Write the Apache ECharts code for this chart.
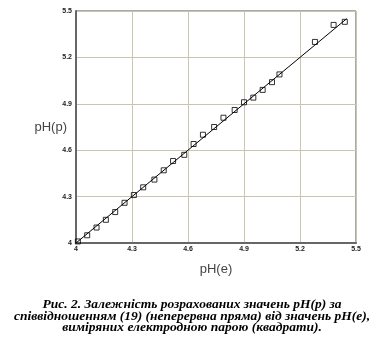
<!DOCTYPE html>
<html>
<head>
<meta charset="utf-8">
<script src="https://cdn.jsdelivr.net/npm/echarts@6/dist/echarts.min.js"></script>
<style>
html,body{margin:0;padding:0;background:#fff;}
#c{width:384px;height:356px;}
</style>
</head>
<body>
<div id="c"></div>
<script>
// measured pH(e) values (squares)
var phE = [4.01,4.06,4.11,4.16,4.21,4.26,4.31,4.36,4.42,4.47,4.52,4.58,4.63,4.68,4.74,4.79,4.85,4.90,4.95,5.00,5.05,5.09,5.28,5.38,5.44];
// calculated pH(p) values (squares)
var phP = [4.01,4.05,4.10,4.15,4.20,4.26,4.31,4.36,4.41,4.47,4.53,4.57,4.64,4.70,4.75,4.81,4.86,4.91,4.94,4.99,5.04,5.09,5.30,5.41,5.43];
// continuous line endpoints (pH(e), pH(p))
var lineX = [4.0, 5.45];
var lineY = [4.0, 5.45];
var tickLabels = ['4','4.3','4.6','4.9','5.2','5.5'];
var captionLines = [
  'Рис. 2. Залежність розрахованих значень pH(p) за',
  'співвідношенням (19) (неперервна пряма) від значень pH(e),',
  'виміряних електродною парою (квадрати).'
];

var squares = phE.map(function(x,i){return [x, phP[i]];});
var linePts = lineX.map(function(x,i){return [x, lineY[i]];});
function fmt(v){
  var s = (+v.toFixed(1)).toString();
  return tickLabels.indexOf(s) >= 0 ? s : '';
}
var axisLabelStyle = {fontSize:7, color:'#222', fontFamily:'Liberation Sans', fontWeight:'bold', formatter: fmt};
var chart = echarts.init(document.getElementById('c'), null, {renderer:'canvas'});
chart.setOption({
  animation:false,
  backgroundColor:'#fff',
  title:{
    text: captionLines.join('\n'),
    left:'center', top:294,
    textStyle:{fontFamily:'Liberation Serif', fontStyle:'italic', fontWeight:'bold', fontSize:13.5, lineHeight:11.5, color:'#000'}
  },
  grid:{left:76, top:11, width:280, height:232, show:true, borderColor:'#555', borderWidth:1, backgroundColor:'#fff'},
  xAxis:{
    type:'value', min:4, max:5.5, interval:0.3,
    name:'pH(e)', nameLocation:'middle', nameGap:20, nameMoveOverlap:false,
    nameTextStyle:{fontSize:13, color:'#444', fontFamily:'Liberation Sans'},
    axisLine:{show:true, lineStyle:{color:'#666', width:2}},
    axisTick:{show:false},
    axisLabel:Object.assign({margin:3}, axisLabelStyle),
    splitLine:{show:true, lineStyle:{color:'#c9c5b1', width:1}}
  },
  yAxis:{
    type:'value', min:4, max:5.5, interval:0.3,
    name:'pH(p)', nameLocation:'middle', nameRotate:0, nameGap:9, nameMoveOverlap:false,
    nameTextStyle:{fontSize:13, color:'#444', fontFamily:'Liberation Sans', align:'right', verticalAlign:'middle'},
    axisLine:{show:true, lineStyle:{color:'#666', width:2}},
    axisTick:{show:false},
    axisLabel:Object.assign({margin:4}, axisLabelStyle),
    splitLine:{show:true, lineStyle:{color:'#c9c5b1', width:1}}
  },
  series:[
    {type:'line', data:linePts, symbol:'none', lineStyle:{color:'#000', width:1}, z:2},
    {type:'scatter', data:squares, symbol:'rect', symbolSize:5,
     itemStyle:{color:'rgba(0,0,0,0)', borderColor:'#000', borderWidth:1}, z:3}
  ]
});
</script>
</body>
</html>
